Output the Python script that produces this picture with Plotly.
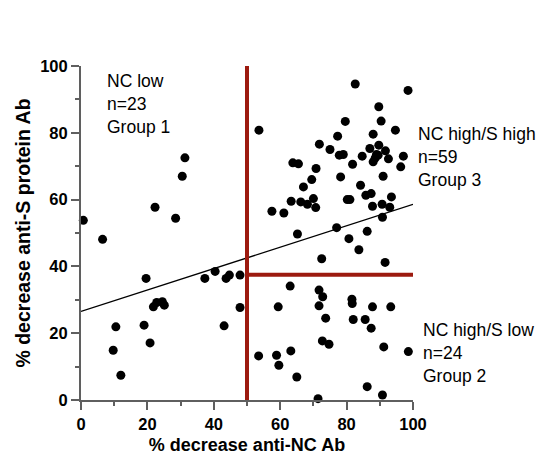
import plotly.graph_objects as go

# Group 1: NC low
g1_x = [0.7, 6.5, 19.6, 21.8, 22.8, 24.5, 25.1, 10.5, 19.0, 9.7, 20.8, 12.0,
        37.3, 40.4, 43.7, 44.7, 47.9, 47.9, 43.1, 31.3, 30.5, 22.3, 28.5]
g1_y = [53.8, 48.1, 36.4, 27.9, 29.2, 29.4, 28.4, 21.9, 22.4, 14.9, 17.1, 7.4,
        36.4, 38.5, 36.4, 37.4, 37.4, 27.7, 22.2, 72.5, 67.0, 57.7, 54.4]

# Group 2: NC high / S low
g2_x = [63.0, 71.7, 72.8, 71.7, 59.4, 73.7, 81.6, 81.7, 87.8, 93.3, 82.0, 85.6,
        87.4, 72.7, 74.7, 91.2, 98.6, 53.5, 58.9, 59.6, 63.2, 65.0, 86.2, 90.8, 71.4]
g2_y = [34.1, 32.9, 30.9, 28.2, 27.9, 24.5, 30.2, 28.9, 27.9, 27.9, 24.1, 24.1,
        21.5, 17.7, 16.7, 15.9, 14.5, 13.2, 13.4, 10.4, 14.7, 6.9, 4.0, 1.5, 0.4]

# Group 3: NC high / S high
g3_x = [53.6, 71.8, 75.0, 77.3, 77.8, 79.0, 63.8, 65.5, 82.6, 98.5, 89.7, 79.6,
        90.4, 94.7, 88.0, 84.7, 87.0, 89.7, 91.7, 89.0, 88.0, 97.1, 92.6, 81.8,
        96.3, 78.2, 91.0, 84.2, 85.8, 87.4, 80.2, 81.0, 93.5, 87.8, 90.7, 93.0,
        90.8, 77.0, 86.2, 80.7, 83.7, 72.5, 91.6, 65.2, 70.8, 69.5, 67.0, 63.3,
        66.2, 68.2, 70.0, 70.7, 57.5, 61.1, 89.5, 88.6]
g3_y = [80.8, 76.6, 75.0, 79.0, 73.3, 73.5, 71.0, 70.7, 94.6, 92.7, 87.8, 83.4,
        83.5, 80.8, 79.6, 73.0, 75.3, 76.3, 74.6, 73.5, 71.3, 73.0, 72.2, 70.6,
        69.8, 66.8, 67.0, 64.3, 61.3, 61.8, 60.0, 60.0, 60.8, 58.0, 58.6, 57.7,
        54.7, 51.6, 50.5, 48.3, 45.0, 42.3, 41.2, 49.7, 69.3, 66.0, 63.8, 59.5,
        59.3, 58.6, 60.3, 57.6, 56.5, 56.0, 73.3, 72.4]

# Regression line
fit_x = [0, 100]
fit_y = [26.5, 58.6]

# Threshold lines
nc_cut = 50
s_cut = 37.5

x_ticks = [0, 20, 40, 60, 80, 100]
y_ticks = [0, 20, 40, 60, 80, 100]

labels = [
    dict(text="NC low<br>n=23<br>Group 1", x=0.072, y=0.886),
    dict(text="NC high/S high<br>n=59<br>Group 3", x=1.010, y=0.728),
    dict(text="NC high/S low<br>n=24<br>Group 2", x=1.024, y=0.141),
]

FONT = "Arial, Liberation Sans, sans-serif"
RED = "#9C1A0F"
AXC = "#5f5f5f"

fig = go.Figure()

fig.add_trace(go.Scatter(x=fit_x, y=fit_y, mode="lines",
                         line=dict(color="black", width=1.3), hoverinfo="skip",
                         showlegend=False))
fig.add_trace(go.Scatter(x=[nc_cut, nc_cut], y=[0, 101], mode="lines",
                         line=dict(color=RED, width=4), showlegend=False))
fig.add_trace(go.Scatter(x=[nc_cut, 101], y=[s_cut, s_cut], mode="lines",
                         line=dict(color=RED, width=4), showlegend=False))

for gx, gy in [(g1_x, g1_y), (g2_x, g2_y), (g3_x, g3_y)]:
    fig.add_trace(go.Scatter(x=gx, y=gy, mode="markers",
                             marker=dict(color="black", size=9),
                             cliponaxis=False, showlegend=False))

for lab in labels:
    fig.add_annotation(text=lab["text"], x=lab["x"], y=lab["y"], xref="paper", yref="paper",
                       xanchor="left", yanchor="middle", align="left", showarrow=False,
                       font=dict(family=FONT, size=17.5, color="black"))

axis_common = dict(
    showgrid=False, zeroline=False, showline=True, linecolor=AXC, linewidth=2,
    ticks="outside", ticklen=8, tickwidth=2, tickcolor=AXC, automargin=False,
    tickfont=dict(family=FONT, size=16.5, color="black", weight="bold"),
    minor=dict(ticks="outside", ticklen=4, tickwidth=2, tickcolor=AXC, dtick=10),
)

fig.update_xaxes(range=[0, 100], tickvals=x_ticks, ticktext=[str(v) for v in x_ticks],
                 title=dict(text="% decrease anti-NC Ab", standoff=10,
                            font=dict(family=FONT, size=18, color="black", weight="bold")),
                 **axis_common)
fig.update_yaxes(range=[0, 100], tickvals=y_ticks, ticktext=[str(v) for v in y_ticks],
                 title=dict(text="% decrease anti-S protein Ab", standoff=4,
                            font=dict(family=FONT, size=19.5, color="black", weight="bold")),
                 **axis_common)

# the page body adds an 8px margin on every side, so the figure is sized to fit the window
fig.update_layout(
    width=529, height=447,
    margin=dict(l=73, r=124, t=58, b=55),
    plot_bgcolor="white", paper_bgcolor="white",
    font=dict(family=FONT, color="black"),
    showlegend=False,
)

fig.write_html("out.html")
